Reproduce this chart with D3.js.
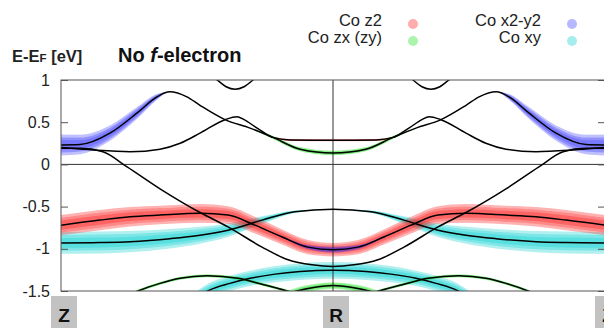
<!DOCTYPE html>
<html>
<head>
<meta charset="utf-8">
<script src="https://cdn.jsdelivr.net/npm/d3@7"></script>
<style>
  body { margin: 0; background: #fff; }
  svg { display: block; font-family: "Liberation Sans", Arial, Helvetica, sans-serif; }
</style>
</head>
<body>
<svg id="chart" width="604" height="328"></svg>
<script>
// high-symmetry points along the path
const kPoints = [0, 1, 2]
const kLabels = ['Z', 'R', 'Z']
const yTicks = [1, 0.5, 0, -0.5, -1, -1.5]

// orbital projections (fat bands)
const orbitals = ['Co z2', 'Co zx (zy)', 'Co x2-y2', 'Co xy']
const orbitalColors = ['#ff1010', '#10dd10', '#3030ff', '#00cccc']

// bands as [k, E] from Z (k=0) to R (k=1); R -> Z is the mirror image
const bandA = [[0, .23], [.07, .235], [.18, .37], [.28, .61], [.353, .80], [.40, .86], [.463, .80], [.511, .70], [.603, .53], [.695, .43], [.779, .32], [.879, .18], [1, .135]]
const bandB = [[0, .20], [.118, .17], [.254, .15], [.364, .18], [.438, .25], [.511, .37], [.603, .53], [.647, .565], [.673, .53], [.721, .43], [.779, .32], [.842, .29], [1, .285]]
const bandC = [[0, .19], [.07, .19], [.154, .15], [.243, -.03], [.364, -.29], [.511, -.57], [.614, -.74], [.739, -.98], [.835, -1.13], [.923, -1.19], [1, -1.21]]
const bandD = [[.511, 1.15], [.574, 1.0], [.607, .92], [.640, .89], [.673, .92], [.706, 1.0], [.761, 1.15]]
const bandE = [[0, -.72], [.143, -.66], [.254, -.62], [.364, -.60], [.511, -.58], [.614, -.60], [.713, -.72], [.813, -.86], [.908, -.98], [1, -1.01]]
const bandF = [[0, -.93], [.143, -.925], [.254, -.915], [.401, -.88], [.511, -.84], [.614, -.78], [.739, -.66], [.860, -.56], [1, -.53]]
const bandG = [[.217, -1.6], [.283, -1.5], [.364, -1.41], [.438, -1.35], [.537, -1.32], [.651, -1.35], [.739, -1.42], [.831, -1.5], [.879, -1.55]]
const bandH = [[.493, -1.6], [.540, -1.5], [.621, -1.41], [.695, -1.35], [.787, -1.3], [.879, -1.27], [1, -1.255]]
const bandI = [[.824, -1.55], [.868, -1.5], [.934, -1.455], [1, -1.435]]

// fat-band half widths (eV), one per band point
const wA_x2y2 = [.125, .115, .09, .07, .035, 0, 0, 0, 0, 0, 0, 0, 0]
const wA_zx = [0, 0, 0, 0, 0, 0, 0, 0, 0, 0, .02, .025, .028]
const wB_z2 = [0, 0, 0, 0, 0, 0, 0, 0, 0, 0, .008, .012, .012]
const wE_z2 = [.12, .12, .115, .11, .11, .105, .1, .09, .085, .08]
const wE_x2y2 = [0, 0, 0, 0, 0, 0, 0, .01, .025, .035]
const wF_xy = [.13, .13, .125, .115, .1, .08, .045, .015, 0]
const wG_zx = [.018, .018, .018, .018, .018, .018, .018, .018, .018]
const wH_xy = [.085, .085, .09, .09, .095, .1, .1]
const wI_zx = [.04, .04, .04, .04]

const bands = [bandA, bandB, bandC, bandD, bandE, bandF, bandG, bandH, bandI]
const fatBands = [
    { band: bandF, orb: 3, w: wF_xy },
    { band: bandH, orb: 3, w: wH_xy },
    { band: bandE, orb: 0, w: wE_z2 },
    { band: bandB, orb: 0, w: wB_z2 },
    { band: bandA, orb: 1, w: wA_zx },
    { band: bandG, orb: 1, w: wG_zx },
    { band: bandI, orb: 1, w: wI_zx },
    { band: bandA, orb: 2, w: wA_x2y2 },
    { band: bandE, orb: 2, w: wE_x2y2 }
]

const margin = { top: 80, left: 61, right: 605, bottom: 291 }
const svg = d3.select('#chart')

const x = d3.scaleLinear().domain([0, 2]).range([margin.left, margin.right])
const y = d3.scaleLinear().domain([-1.5, 1]).range([margin.bottom, margin.top])

// builds the full Z-R-Z path(s) of one band, mirrored about R
function segments(pts, w) {
    let left = pts.map((p, i) => ({ k: p[0], e: p[1], w: w ? w[i] : 0 }))
    let right = left.map(d => ({ k: 2 - d.k, e: d.e, w: d.w })).reverse()
    if (left[left.length - 1].k === 1) {
        return [left.concat(right.slice(1))]
    }
    return [left, right]
}

svg.append('clipPath').attr('id', 'plot-clip')
    .append('rect')
    .attr('x', margin.left).attr('y', margin.top)
    .attr('width', margin.right - margin.left)
    .attr('height', margin.bottom - margin.top)

svg.append('filter').attr('id', 'soft')
    .append('feGaussianBlur').attr('stdDeviation', 0.7)

let plot = svg.append('g').attr('clip-path', 'url(#plot-clip)')

// fat bands
let fatLayer = plot.append('g').attr('filter', 'url(#soft)')
fatBands.forEach(f => {
    segments(f.band, f.w).forEach(seg => {
        [1, 0.72, 0.45].forEach(s => {
            let area = d3.area()
                .x(d => x(d.k))
                .y0(d => y(d.e - d.w * s))
                .y1(d => y(d.e + d.w * s))
                .curve(d3.curveMonotoneX)
            fatLayer.append('path')
                .attr('d', area(seg))
                .attr('fill', orbitalColors[f.orb])
                .attr('fill-opacity', 0.3)
        })
    })
})

// zero line and R line
plot.append('line')
    .attr('x1', margin.left).attr('x2', margin.right)
    .attr('y1', y(0)).attr('y2', y(0))
    .attr('stroke', '#333').attr('stroke-width', 1)

plot.selectAll('.kline')
    .data(kPoints.slice(1, -1))
    .enter()
    .append('line')
    .attr('x1', d => x(d)).attr('x2', d => x(d))
    .attr('y1', margin.top).attr('y2', margin.bottom)
    .attr('stroke', '#333').attr('stroke-width', 1)

// band lines
let line = d3.line().x(d => x(d.k)).y(d => y(d.e)).curve(d3.curveMonotoneX)
bands.forEach(b => {
    segments(b).forEach(seg => {
        plot.append('path')
            .attr('d', line(seg))
            .attr('fill', 'none')
            .attr('stroke', '#000')
            .attr('stroke-width', 1.5)
    })
})

// frame and ticks
svg.append('rect')
    .attr('x', margin.left).attr('y', margin.top)
    .attr('width', margin.right - margin.left)
    .attr('height', margin.bottom - margin.top)
    .attr('fill', 'none').attr('stroke', '#555').attr('stroke-width', 1)

let yAxis = d3.axisLeft(y)
    .tickValues(yTicks)
    .tickSizeInner(-7)
    .tickSizeOuter(0)
    .tickPadding(11)
    .tickFormat(d => String(d))

let ax = svg.append('g')
    .attr('transform', `translate(${margin.left}, 0)`)
    .call(yAxis)
ax.select('.domain').remove()
ax.selectAll('line').attr('stroke', '#555')
ax.selectAll('text')
    .attr('font-size', '16px')
    .attr('fill', '#222')
    .attr('font-family', '"Liberation Sans", Arial, sans-serif')

let axR = svg.append('g')
    .attr('transform', `translate(${margin.right}, 0)`)
    .call(d3.axisRight(y).tickValues(yTicks).tickSizeInner(-7).tickSizeOuter(0).tickFormat(''))
axR.select('.domain').remove()
axR.selectAll('line').attr('stroke', '#555')

// k-point labels in grey boxes
let kl = svg.selectAll('.klabel')
    .data(kPoints)
    .enter()
    .append('g')
    .attr('transform', d => `translate(${x(d)}, 0)`)
kl.append('rect')
    .attr('x', -10).attr('y', 296)
    .attr('width', 26).attr('height', 40)
    .attr('fill', '#c2c2c2')
kl.append('text')
    .attr('x', 3).attr('y', 322)
    .attr('text-anchor', 'middle')
    .attr('font-size', '19px')
    .attr('font-weight', 'bold')
    .attr('fill', '#111')
    .text((d, i) => kLabels[i])

// axis title
let yt = svg.append('text')
    .attr('x', 12).attr('y', 62)
    .attr('font-size', '16.5px')
    .attr('font-weight', 'bold')
    .attr('fill', '#222')
yt.append('tspan').text('E-E')
yt.append('tspan').attr('font-size', '11.5px').text('F')
yt.append('tspan').text(' [eV]')

// title
let title = svg.append('text')
    .attr('x', 118).attr('y', 62)
    .attr('font-size', '20px')
    .attr('font-weight', 'bold')
    .attr('fill', '#111')
title.append('tspan').text('No ')
title.append('tspan').attr('font-style', 'italic').text('f')
title.append('tspan').text('-electron')

// legend, two columns
let legendX = [382, 541]
let legendY = [26, 43]
let lg = svg.selectAll('.legend')
    .data(orbitals)
    .enter()
    .append('g')
    .attr('transform', (d, i) => `translate(${legendX[Math.floor(i / 2)]}, ${legendY[i % 2]})`)
lg.append('text')
    .attr('text-anchor', 'end')
    .attr('font-size', '16.5px')
    .attr('fill', '#222')
    .text(d => d)
lg.append('circle')
    .attr('cx', 31).attr('cy', -2)
    .attr('r', 5)
    .attr('fill', (d, i) => orbitalColors[i])
    .attr('fill-opacity', 0.35)
</script>
</body>
</html>
